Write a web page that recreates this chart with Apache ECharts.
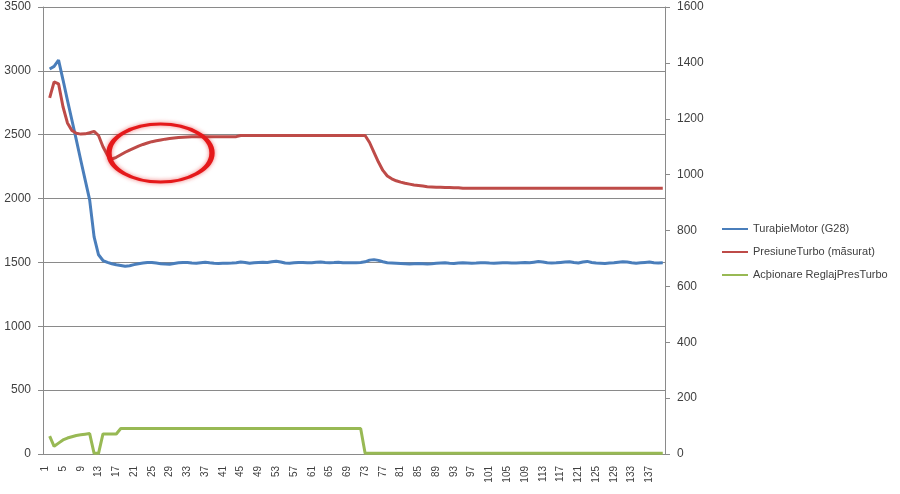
<!DOCTYPE html>
<html>
<head>
<meta charset="utf-8">
<script src="https://cdn.jsdelivr.net/npm/echarts@6/dist/echarts.min.js"></script>
<style>
  html, body { margin: 0; padding: 0; background: #fff; }
  #chart { width: 900px; height: 494px; }
</style>
</head>
<body>
<div id="chart"></div>
<script>
// index 1..140 on the category axis (row 1 of the sheet is empty)
var categories = [];
for (var k = 1; k <= 140; k++) categories.push(String(k));

var seriesNames = ['TuraþieMotor (G28)', 'PresiuneTurbo (mãsurat)', 'Acþionare ReglajPresTurbo'];

// left axis
var turatieMotor = [
  null,
  3015,3035,3085,2930,2770,2615,2460,2300,2145,1990,
  1700,1560,1515,1500,1490,1482,1476,1470,1474,1483,
  1490,1495,1500,1500,1495,1490,1487,1485,1492,1497,
  1500,1500,1495,1493,1498,1502,1497,1493,1492,1493,
  1493,1495,1498,1503,1500,1493,1497,1500,1501,1500,
  1505,1510,1504,1496,1494,1497,1500,1500,1498,1497,
  1501,1504,1500,1497,1499,1502,1498,1497,1497,1498,
  1500,1505,1518,1522,1516,1505,1498,1496,1494,1492,
  1490,1488,1490,1492,1490,1488,1490,1493,1495,1497,
  1494,1492,1495,1497,1495,1493,1495,1498,1497,1495,
  1494,1496,1498,1497,1495,1496,1498,1500,1497,1502,
  1507,1504,1498,1495,1497,1500,1503,1505,1499,1496,
  1504,1508,1500,1496,1494,1492,1495,1498,1502,1506,
  1503,1497,1494,1497,1500,1503,1498,1495,1497
];

// right axis
var presiuneTurbo = [
  null,
  1275,1332,1325,1243,1185,1158,1148,1145,1146,1150,
  1155,1140,1100,1070,1056,1062,1071,1080,1088,1095,
  1102,1108,1113,1118,1121,1124,1127,1129,1131,1133,
  1134,1135,1136,1136,1136,1136,1136,1136,1136,1136,
  1136,1136,1136,1140,1140,1140,1140,1140,1140,1140,
  1140,1140,1140,1140,1140,1140,1140,1140,1140,1140,
  1140,1140,1140,1140,1140,1140,1140,1140,1140,1140,
  1140,1140,1115,1080,1045,1015,995,985,978,973,
  969,966,963,961,959,957,956,955,955,954,
  954,953,953,951,951,951,951,951,951,951,
  951,951,951,951,951,951,951,951,951,951,
  951,951,951,951,951,951,951,951,951,951,
  951,951,951,951,951,951,951,951,951,951,
  951,951,951,951,951,951,951,951,951
];

// left axis
var actionareReglaj = [
  null,
  140,60,85,110,125,135,145,150,155,160,
  5,5,157,157,157,157,200,200,200,200,
  200,200,200,200,200,200,200,200,200,200,
  200,200,200,200,200,200,200,200,200,200,
  200,200,200,200,200,200,200,200,200,200,
  200,200,200,200,200,200,200,200,200,200,
  200,200,200,200,200,200,200,200,200,200,
  200,5,5,5,5,5,5,5,5,5,
  5,5,5,5,5,5,5,5,5,5,
  5,5,5,5,5,5,5,5,5,5,
  5,5,5,5,5,5,5,5,5,5,
  5,5,5,5,5,5,5,5,5,5,
  5,5,5,5,5,5,5,5,5,5,
  5,5,5,5,5,5,5,5,5
];

var font = 'Liberation Sans';
var gridGray = '#8a8a8a';
var textCol = '#404040';

var myChart = echarts.init(document.getElementById('chart'));

var option = {
  backgroundColor: '#ffffff',
  animation: false,
  color: ['#4a7ebb', '#be4b48', '#98b954'],
  textStyle: { fontFamily: font },
  grid: { left: 43, right: 235, top: 7, bottom: 40, outerBoundsMode: 'none' },
  legend: {
    orient: 'vertical',
    left: 717,
    top: 217,
    icon: 'rect',
    itemWidth: 26,
    itemHeight: 2,
    itemGap: 9,
    textStyle: { fontSize: 11, lineHeight: 14, color: textCol, fontFamily: font },
    data: seriesNames
  },
  xAxis: {
    type: 'category',
    data: categories,
    boundaryGap: true,
    axisLine: { lineStyle: { color: gridGray } },
    axisTick: { interval: 0, length: 4, lineStyle: { color: gridGray } },
    axisLabel: { interval: 3, rotate: 90, fontSize: 10, color: textCol, margin: 12 }
  },
  yAxis: [
    {
      type: 'value',
      min: 0, max: 3500, interval: 500,
      axisLine: { show: true, lineStyle: { color: gridGray } },
      axisTick: { show: true, length: 5, lineStyle: { color: gridGray } },
      axisLabel: { fontSize: 12, color: textCol, margin: 12, formatter: function (v) { return String(v); } },
      splitLine: { lineStyle: { color: gridGray } }
    },
    {
      type: 'value',
      min: 0, max: 1600, interval: 200,
      position: 'right',
      axisLine: { show: true, lineStyle: { color: gridGray } },
      axisTick: { show: true, length: 5, lineStyle: { color: gridGray } },
      axisLabel: { fontSize: 12, color: textCol, margin: 12, formatter: function (v) { return String(v); } },
      splitLine: { show: false }
    }
  ],
  series: [
    {
      name: seriesNames[0],
      type: 'line',
      yAxisIndex: 0,
      symbol: 'none',
      lineStyle: { width: 3 },
      data: turatieMotor,
      z: 3
    },
    {
      name: seriesNames[1],
      type: 'line',
      yAxisIndex: 1,
      symbol: 'none',
      lineStyle: { width: 3 },
      data: presiuneTurbo,
      z: 4
    },
    {
      name: seriesNames[2],
      type: 'line',
      yAxisIndex: 0,
      symbol: 'none',
      lineStyle: { width: 3 },
      data: actionareReglaj,
      z: 5
    }
  ],
  graphic: [
    {
      // hand drawn red ellipse round the pressure dip
      type: 'circle',
      x: 160.5,
      y: 153,
      scaleX: 51.5 / 29,
      scaleY: 1,
      shape: { cx: 0, cy: 0, r: 29 },
      style: {
        fill: 'none',
        stroke: '#e5191b',
        lineWidth: 3,
        strokeNoScale: true,
        shadowBlur: 4,
        shadowColor: 'rgba(230,30,30,0.6)'
      },
      z: 100
    }
  ]
};

myChart.setOption(option);
</script>
</body>
</html>
